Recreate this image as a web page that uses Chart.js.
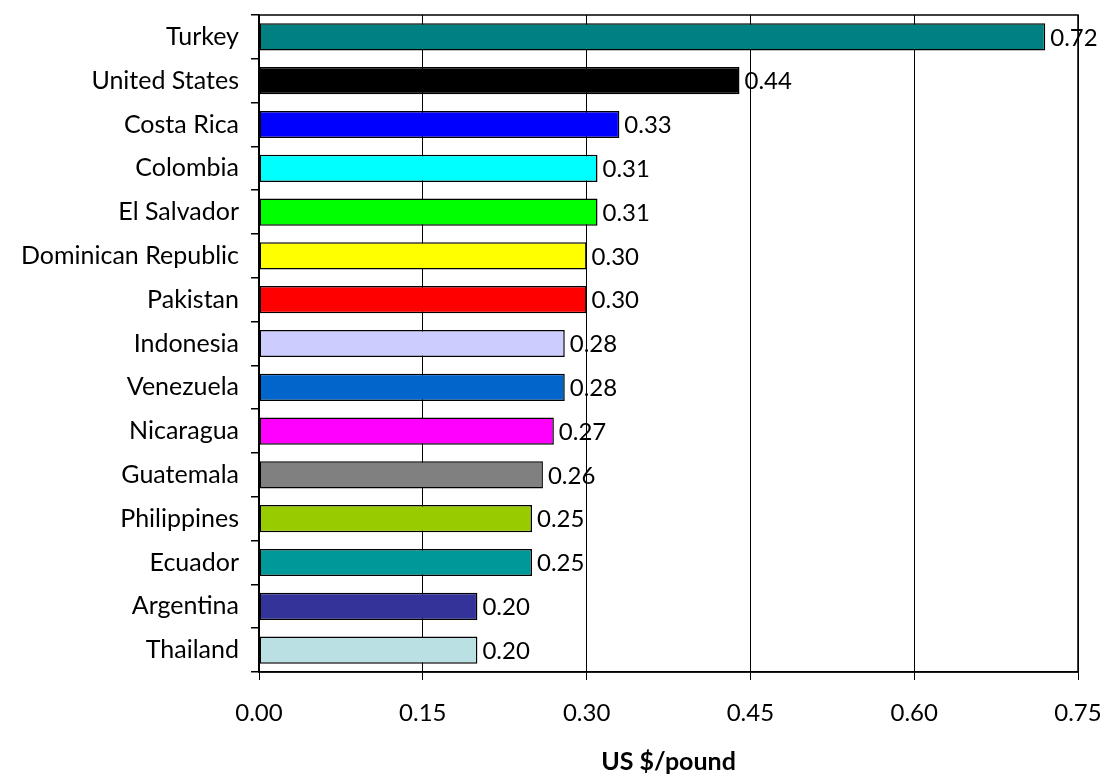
<!DOCTYPE html>
<html>
<head>
<meta charset="utf-8">
<script src="https://cdn.jsdelivr.net/npm/chart.js@4/dist/chart.umd.min.js"></script>
<style>
  html, body { margin: 0; padding: 0; background: #fff; }
  #wrap { width: 1105px; height: 777px; }
</style>
</head>
<body>
<div id="wrap"><canvas id="c" width="1105" height="777"></canvas></div>
<script>
const countries = ["Turkey", "United States", "Costa Rica", "Colombia", "El Salvador",
  "Dominican Republic", "Pakistan", "Indonesia", "Venezuela", "Nicaragua",
  "Guatemala", "Philippines", "Ecuador", "Argentina", "Thailand"];
const prices = [0.72, 0.44, 0.33, 0.31, 0.31, 0.30, 0.30, 0.28, 0.28, 0.27, 0.26, 0.25, 0.25, 0.20, 0.20];
const barColors = ["#008080", "#000000", "#0000FF", "#00FFFF", "#00FF00",
  "#FFFF00", "#FF0000", "#CCCCFF", "#0066CC", "#FF00FF",
  "#808080", "#99CC00", "#009999", "#333399", "#BAE0E3"];
const xTicks = [0, 0.15, 0.30, 0.45, 0.60, 0.75];
const axisTitle = "US $/pound";

const FONT = "Lato, 'DejaVu Sans', sans-serif";

// Frame around the plotting area
const framePlugin = {
  id: 'frame',
  afterDraw(chart) {
    const { ctx, chartArea: a } = chart;
    ctx.save();
    ctx.strokeStyle = '#000';
    ctx.lineWidth = 1.5;
    ctx.strokeRect(a.left, a.top, a.right - a.left, a.bottom - a.top);
    ctx.restore();
  }
};

// Value printed to the right of each bar
const valueLabels = {
  id: 'valueLabels',
  afterDatasetsDraw(chart) {
    const { ctx } = chart;
    const meta = chart.getDatasetMeta(0);
    ctx.save();
    ctx.font = "24px " + FONT;
    ctx.fillStyle = '#000';
    ctx.textAlign = 'left';
    ctx.textBaseline = 'middle';
    meta.data.forEach((bar, i) => {
      ctx.fillText(prices[i].toFixed(2), bar.x + 5, bar.y + 1);
    });
    ctx.restore();
  }
};

new Chart(document.getElementById('c'), {
  type: 'bar',
  data: {
    labels: countries,
    datasets: [{
      data: prices,
      backgroundColor: barColors,
      borderColor: '#000',
      borderWidth: 1.5,
      borderSkipped: false,
      barPercentage: 0.62,
      categoryPercentage: 1.0
    }]
  },
  options: {
    indexAxis: 'y',
    responsive: false,
    animation: false,
    layout: { padding: { top: 15, right: 27, left: 0, bottom: 0 } },
    plugins: {
      legend: { display: false },
      tooltip: { enabled: false }
    },
    scales: {
      x: {
        min: 0,
        max: 0.75,
        afterBuildTicks(scale) { scale.ticks = xTicks.map(v => ({ value: v })); },
        afterFit(scale) {
          scale.height = 105;
          scale.paddingLeft = 0;
          scale.paddingRight = 0;
        },
        border: { color: '#000', width: 1.5 },
        grid: { color: '#000', lineWidth: 1, tickLength: 8, drawTicks: true },
        ticks: {
          color: '#000',
          padding: 19,
          font: { family: FONT, size: 24 },
          callback: (v) => Number(v).toFixed(2)
        },
        title: {
          display: true,
          text: axisTitle,
          color: '#000',
          padding: { top: 0, bottom: 0 },
          font: { family: FONT, size: 25, weight: 'bold' }
        }
      },
      y: {
        afterFit(scale) {
          scale.width = 259;
          scale.paddingTop = 0;
          scale.paddingBottom = 0;
        },
        border: { color: '#000', width: 1.5 },
        grid: { offset: true, drawOnChartArea: false, color: '#000', tickLength: 8, lineWidth: 1.5 },
        ticks: {
          color: '#000',
          padding: 12,
          font: { family: FONT, size: 25 }
        }
      }
    }
  },
  plugins: [framePlugin, valueLabels]
});
</script>
</body>
</html>
